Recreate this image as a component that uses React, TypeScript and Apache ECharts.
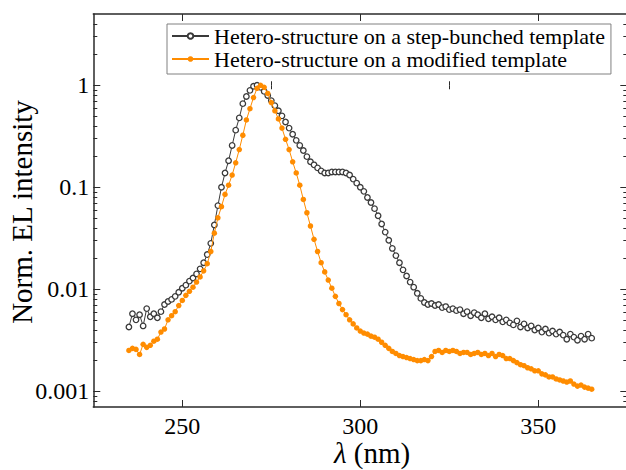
import React, { useEffect, useRef } from 'react';
import * as echarts from 'echarts';

// ---------- data ----------
const wavelengths = [
  235, 236, 237, 238, 239, 240, 241, 242, 243, 244, 245, 246, 247, 248, 249, 250, 251, 252, 253, 254,
  255, 256, 257, 258, 259, 260, 261, 262, 263, 264, 265, 266, 267, 268, 269, 270, 271, 272, 273, 274,
  275, 276, 277, 278, 279, 280, 281, 282, 283, 284, 285, 286, 287, 288, 289, 290, 291, 292, 293, 294,
  295, 296, 297, 298, 299, 300, 301, 302, 303, 304, 305, 306, 307, 308, 309, 310, 311, 312, 313, 314,
  315, 316, 317, 318, 319, 320, 321, 322, 323, 324, 325, 326, 327, 328, 329, 330, 331, 332, 333, 334,
  335, 336, 337, 338, 339, 340, 341, 342, 343, 344, 345, 346, 347, 348, 349, 350, 351, 352, 353, 354,
  355, 356, 357, 358, 359, 360, 361, 362, 363, 364, 365,
];

// log10 of normalized EL intensity
const stepBunchedLog10 = [
  -2.37, -2.24, -2.30, -2.25, -2.36, -2.19, -2.27, -2.24, -2.28, -2.22, -2.15, -2.12, -2.10, -2.07, -2.03, -1.99, -1.96, -1.92, -1.89, -1.85,
  -1.80, -1.74, -1.66, -1.55, -1.37, -1.18, -1.00, -0.86, -0.74, -0.59, -0.44, -0.32, -0.18, -0.11, -0.05, -0.01, 0.00, -0.02, -0.06, -0.10,
  -0.15, -0.20, -0.25, -0.30, -0.36, -0.42, -0.48, -0.54, -0.59, -0.64, -0.70, -0.75, -0.78, -0.81, -0.84, -0.86, -0.86, -0.85, -0.85, -0.85,
  -0.85, -0.86, -0.88, -0.92, -0.96, -1.00, -1.04, -1.10, -1.15, -1.21, -1.28, -1.36, -1.44, -1.52, -1.60, -1.67, -1.74, -1.81, -1.87, -1.93,
  -1.98, -2.04, -2.09, -2.13, -2.15, -2.14, -2.16, -2.15, -2.18, -2.17, -2.20, -2.19, -2.21, -2.20, -2.24, -2.22, -2.26, -2.23, -2.25, -2.28,
  -2.24, -2.29, -2.27, -2.30, -2.28, -2.32, -2.30, -2.33, -2.35, -2.31, -2.37, -2.34, -2.38, -2.36, -2.40, -2.38, -2.42, -2.39, -2.43, -2.41,
  -2.44, -2.42, -2.45, -2.49, -2.44, -2.47, -2.50, -2.46, -2.49, -2.44, -2.48,
];

const modifiedLog10 = [
  -2.60, -2.58, -2.59, -2.64, -2.54, -2.57, -2.55, -2.51, -2.49, -2.42, -2.39, -2.30, -2.26, -2.22, -2.16, -2.11, -2.06, -2.02, -1.98, -1.93,
  -1.88, -1.82, -1.75, -1.63, -1.45, -1.30, -1.19, -1.07, -0.98, -0.88, -0.76, -0.63, -0.49, -0.34, -0.23, -0.12, -0.03, 0.00, -0.02, -0.08,
  -0.17, -0.25, -0.33, -0.42, -0.53, -0.63, -0.75, -0.86, -0.98, -1.12, -1.25, -1.38, -1.51, -1.63, -1.74, -1.83, -1.91, -1.99, -2.07, -2.14,
  -2.20, -2.25, -2.30, -2.34, -2.38, -2.41, -2.43, -2.44, -2.46, -2.47, -2.49, -2.52, -2.55, -2.58, -2.61, -2.63, -2.65, -2.66, -2.67, -2.68,
  -2.69, -2.70, -2.70, -2.69, -2.70, -2.66, -2.61, -2.60, -2.62, -2.60, -2.61, -2.60, -2.61, -2.63, -2.62, -2.62, -2.64, -2.63, -2.62, -2.64,
  -2.63, -2.65, -2.63, -2.66, -2.64, -2.65, -2.68, -2.68, -2.70, -2.72, -2.74, -2.75, -2.77, -2.78, -2.80, -2.80, -2.83, -2.84, -2.86, -2.86,
  -2.88, -2.89, -2.90, -2.91, -2.90, -2.93, -2.95, -2.94, -2.96, -2.97, -2.98,
];

const seriesNames = [
  'Hetero-structure on a step-bunched template',
  'Hetero-structure on a modified template',
];

const xMajorTicks = [250, 300, 350];
const xMinorTicks = [275, 325];
const xTickLabels = ['250', '300', '350'];

const yMajorValues = [0.001, 0.01, 0.1, 1];
const yTickLabels = ['0.001', '0.01', '0.1', '1'];
const yMinorValues = [
  0.0008, 0.0009,
  0.002, 0.003, 0.004, 0.005, 0.006, 0.007, 0.008, 0.009,
  0.02, 0.03, 0.04, 0.05, 0.06, 0.07, 0.08, 0.09,
  0.2, 0.3, 0.4, 0.5, 0.6, 0.7, 0.8, 0.9,
  2, 3, 4,
];

const xRange = [225, 375];
const yRange = [0.0007, 5];

// ---------- styling ----------
const FONT = '"Liberation Serif", "Times New Roman", serif';
const FRAME = '#2a2a2a';

export default function App() {
  const ref = useRef<HTMLDivElement>(null);

  useEffect(() => {
    if (!ref.current) return;
    const chart = echarts.init(ref.current, undefined, { renderer: 'svg' });

    const yMin = Math.log10(yRange[0]);
    const yMax = Math.log10(yRange[1]);
    const yMajor = yMajorValues.map((v) => Math.log10(v));
    const yMinor = yMinorValues.map((v) => Math.log10(v));

    const lineStyle = { color: FRAME, width: 1.5 };
    const tickLine = { color: FRAME, width: 1 };

    const xBase: any = {
      type: 'value',
      min: xRange[0],
      max: xRange[1],
      splitLine: { show: false },
      axisLine: { show: false },
      axisLabel: { show: false },
      axisTick: { show: false },
    };
    const yBase: any = {
      type: 'value',
      min: yMin,
      max: yMax,
      splitLine: { show: false },
      axisLine: { show: false },
      axisLabel: { show: false },
      axisTick: { show: false },
    };

    const option: any = {
      animation: false,
      backgroundColor: '#ffffff',
      grid: {
        left: 93.3,
        top: 14,
        width: 534,
        height: 393,
        containLabel: false,
        outerBoundsMode: 'none',
      },
      xAxis: [
        {
          ...xBase,
          position: 'bottom',
          axisLine: { show: true, onZero: false, lineStyle },
          axisTick: { show: true, inside: true, length: 7, customValues: xMajorTicks, lineStyle: tickLine },
          axisLabel: {
            show: true,
            customValues: xMajorTicks,
            formatter: (v: number) => xTickLabels[xMajorTicks.indexOf(Math.round(v))] ?? '',
            margin: 7,
            fontSize: 24,
            fontFamily: FONT,
            color: '#000',
          },
        },
        {
          ...xBase,
          position: 'bottom',
          axisTick: { show: true, inside: true, length: 4, customValues: xMinorTicks, lineStyle: tickLine },
        },
        {
          ...xBase,
          position: 'top',
          axisLine: { show: true, onZero: false, lineStyle },
          axisTick: { show: true, inside: true, length: 7, customValues: xMajorTicks, lineStyle: tickLine },
        },
        {
          ...xBase,
          position: 'top',
          axisTick: { show: true, inside: true, length: 4, customValues: xMinorTicks, lineStyle: tickLine },
        },
      ],
      yAxis: [
        {
          ...yBase,
          position: 'left',
          axisLine: { show: true, onZero: false, lineStyle },
          axisTick: { show: true, inside: true, length: 7, customValues: yMajor, lineStyle: tickLine },
          axisLabel: {
            show: true,
            customValues: yMajor,
            formatter: (v: number) => {
              const idx = yMajor.findIndex((m) => Math.abs(m - v) < 1e-6);
              return idx >= 0 ? yTickLabels[idx] : '';
            },
            margin: 4,
            fontSize: 24,
            fontFamily: FONT,
            color: '#000',
          },
        },
        {
          ...yBase,
          position: 'left',
          axisTick: { show: true, inside: true, length: 4, customValues: yMinor, lineStyle: tickLine },
        },
        {
          ...yBase,
          position: 'right',
          axisLine: { show: true, onZero: false, lineStyle },
          axisTick: { show: true, inside: true, length: 7, customValues: yMajor, lineStyle: tickLine },
        },
        {
          ...yBase,
          position: 'right',
          axisTick: { show: true, inside: true, length: 4, customValues: yMinor, lineStyle: tickLine },
        },
      ],
      legend: {
        orient: 'vertical',
        left: 167,
        top: 24,
        padding: [1, 6, 4, 4],
        itemGap: 1,
        itemWidth: 37,
        itemHeight: 7,
        borderColor: '#808080',
        borderWidth: 1,
        borderRadius: 0,
        backgroundColor: '#ffffff',
        textStyle: { fontSize: 22, fontFamily: FONT, color: '#000' },
        data: seriesNames,
      },
      series: [
        {
          name: seriesNames[0],
          type: 'line',
          xAxisIndex: 0,
          yAxisIndex: 0,
          data: wavelengths.map((w, i) => [w, stepBunchedLog10[i]]),
          symbol: 'circle',
          symbolSize: 5.5,
          showSymbol: true,
          showAllSymbol: true,
          lineStyle: { color: '#3a3a3a', width: 1 },
          itemStyle: { color: '#ffffff', borderColor: '#3a3a3a', borderWidth: 1.3 },
          emphasis: { disabled: true },
          z: 2,
        },
        {
          name: seriesNames[1],
          type: 'line',
          xAxisIndex: 0,
          yAxisIndex: 0,
          data: wavelengths.map((w, i) => [w, modifiedLog10[i]]),
          symbol: 'circle',
          symbolSize: 5.5,
          showSymbol: true,
          showAllSymbol: true,
          lineStyle: { color: '#ff8c00', width: 1 },
          itemStyle: { color: '#ff8c00', borderWidth: 0 },
          emphasis: { disabled: true },
          z: 3,
        },
      ],
      graphic: [
        {
          type: 'text',
          x: 22,
          y: 212,
          rotation: Math.PI / 2,
          style: {
            text: 'Norm. EL intensity',
            fontSize: 29,
            fontFamily: FONT,
            fill: '#000',
            align: 'center',
            verticalAlign: 'middle',
          },
        },
        {
          type: 'text',
          x: 372,
          y: 453,
          style: {
            text: '{i|λ} (nm)',
            fontSize: 29,
            fontFamily: FONT,
            fill: '#000',
            align: 'center',
            verticalAlign: 'middle',
            rich: {
              i: { fontSize: 29, fontFamily: FONT, fontStyle: 'italic', fill: '#000' },
            },
          },
        },
      ],
    };

    chart.setOption(option);
    return () => chart.dispose();
  }, []);

  return (
    <div
      ref={ref}
      style={{ position: 'fixed', left: 0, top: 0, width: 626, height: 470, background: '#fff' }}
    />
  );
}
